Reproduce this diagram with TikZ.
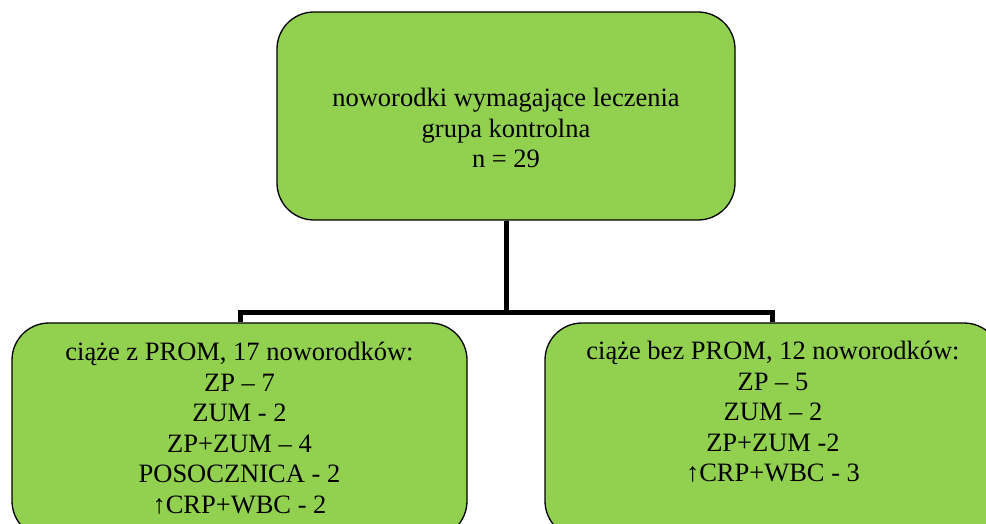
\documentclass[tikz,border=0pt]{standalone}
\usepackage{fontspec}
\setmainfont{Liberation Serif}
\definecolor{boxgreen}{RGB}{146,208,80}
\begin{document}
\begin{tikzpicture}[x=1pt,y=-1pt,
  box/.style={draw=black, line width=1.3pt, fill=boxgreen, rounded corners=37pt, inner sep=0pt},
  txt/.style={align=center, inner sep=0pt, font=\fontsize{26.5}{30.5}\selectfont},
  conn/.style={draw=black, line width=5pt, line join=miter}]
\useasboundingbox (0,0) rectangle (986,524);
\clip (0,0) rectangle (986,524);
\fill[white] (0,0) rectangle (986,524);
\node[box, minimum width=458pt, minimum height=208pt] (top) at (506,116) {};
\node[box, minimum width=455pt, minimum height=215pt] (left) at (239.5,430.5) {};
\node[box, minimum width=456pt, minimum height=215pt] (right) at (773,430.5) {};
\node[txt, anchor=north] (toptext) at (506,88) {noworodki wymagające leczenia\\grupa kontrolna\\n = 29};
\node[txt, anchor=north] (lefttext) at (239.5,342) {ciąże z PROM, 17 noworodków:\\ZP – 7\\ZUM - 2\\ZP+ZUM – 4\\POSOCZNICA - 2\\↑CRP+WBC - 2};
\node[txt, anchor=north] (righttext) at (773,341) {ciąże bez PROM, 12 noworodków:\\ZP – 5\\ZUM – 2\\ZP+ZUM -2\\↑CRP+WBC - 3};
\coordinate (jL) at (240,312);
\coordinate (jR) at (772,312);
\draw[conn] (top.south) -- (top.south |- jL);
\draw[conn] (left.north -| jL) |- (jR) -- (right.north -| jR);
\end{tikzpicture}
\end{document}
